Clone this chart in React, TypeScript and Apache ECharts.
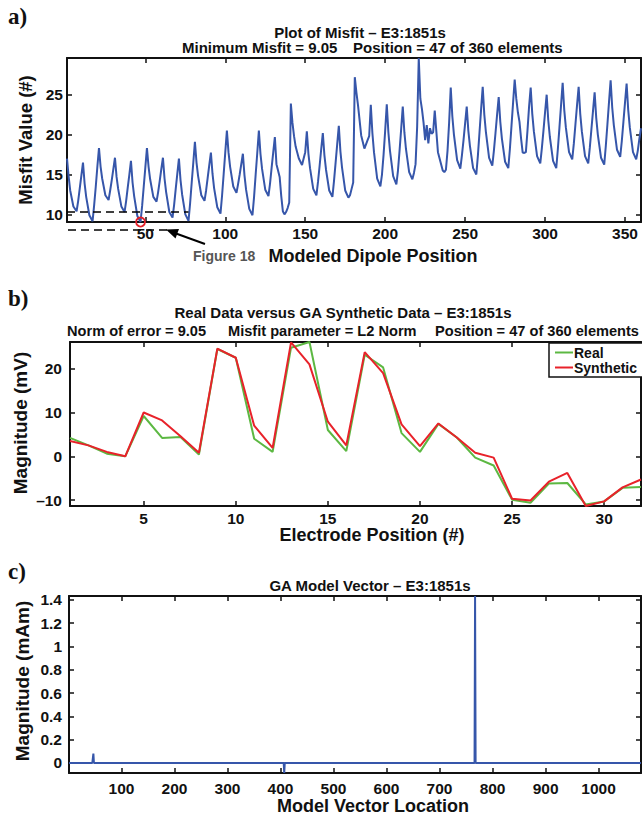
import React, { useEffect, useRef } from 'react';
import * as echarts from 'echarts';

// ---------- Panel a: misfit vs modeled dipole position ----------
const misfitPos = [
  1, 2, 3, 5, 7, 8, 9, 10, 11, 12, 13, 15, 17, 18, 19, 20, 21, 22, 23, 25, 27, 28, 29, 30,
  31, 32, 33, 35, 37, 38, 39, 40, 41, 42, 43, 45, 47, 48, 49, 50, 51, 52, 53, 55, 57, 58, 59, 60,
  61, 62, 63, 65, 67, 68, 69, 70, 71, 72, 73, 75, 77, 78, 79, 80, 81, 82, 83, 85, 87, 88, 89, 90,
  91, 92, 93, 95, 97, 98, 99, 100, 101, 102, 103, 105, 107, 108, 109, 110, 111, 112, 113, 115, 117, 118, 119, 120,
  121, 122, 123, 125, 127, 128, 129, 130, 131, 132, 133, 134, 135, 136, 137, 138, 139, 140,
  141, 142, 143, 144, 146, 148, 149, 150, 151, 152, 153, 155, 157, 158, 159, 160,
  161, 162, 163, 165, 167, 168, 169, 170, 171, 172, 173, 175, 177, 178, 179, 180,
  181, 182, 183, 185, 187, 189, 190, 191, 192, 193, 195, 197, 198, 199, 200,
  201, 202, 203, 205, 207, 208, 209, 210, 211, 212, 213, 215, 217, 218, 219, 220,
  221, 222, 223, 224, 225, 226, 227, 228, 229, 230, 231, 233, 236, 237, 238, 239, 240,
  241, 242, 243, 245, 247, 248, 249, 250, 251, 252, 253, 255, 257, 258, 259, 260,
  261, 262, 263, 265, 267, 268, 269, 270, 271, 272, 273, 275, 277, 278, 279, 280,
  281, 282, 283, 284, 285, 286, 287, 288, 289, 290, 291, 292, 293, 295, 297, 298, 299, 300,
  301, 302, 303, 305, 307, 308, 309, 310, 311, 312, 313, 315, 317, 318, 319, 320,
  321, 322, 323, 325, 327, 328, 329, 330, 331, 332, 333, 335, 337, 338, 339, 340,
  341, 342, 343, 345, 347, 348, 349, 350, 351, 352, 353, 355, 357, 358, 359, 360,
];
const misfitVal = [
  17.0, 14.8, 13.0, 11.0, 10.4, 11.7, 13.3, 14.9, 16.5, 13.9, 12.2, 9.9, 9.15, 11.2, 13.5, 16.0, 18.3, 16.0, 14.5, 12.4, 11.8, 13.0, 14.3, 15.7,
  17.1, 14.7, 13.2, 11.0, 10.3, 11.7, 13.4, 15.0, 16.7, 14.0, 12.3, 9.8, 9.05, 11.1, 13.5, 15.9, 18.3, 16.0, 14.4, 12.2, 11.6, 12.8, 14.2, 15.7,
  17.1, 14.5, 12.8, 10.3, 9.6, 11.2, 13.2, 15.1, 17.0, 14.3, 12.5, 10.0, 9.2, 11.4, 14.0, 16.5, 19.1, 16.5, 14.8, 12.4, 11.7, 13.0, 14.6, 16.2,
  17.75, 15.1, 13.3, 10.9, 10.1, 12.4, 15.1, 17.8, 20.5, 17.8, 16.0, 13.5, 12.7, 13.8, 15.0, 16.3, 17.6, 14.9, 13.1, 10.7, 9.9, 12.2, 15.0, 17.7,
  20.5, 17.6, 15.7, 13.1, 12.3, 13.9, 15.9, 17.8, 19.7, 16.3, 15.5, 14.7, 12.3, 10.4, 10.0, 10.3, 10.8, 11.5,
  23.9, 21.5, 19.8, 18.5, 17.0, 16.2, 17.0, 17.8, 20.4, 17.6, 15.8, 13.2, 12.4, 14.1, 16.1, 18.2,
  20.2, 17.4, 15.6, 13.0, 12.2, 14.2, 16.5, 18.8, 21.1, 17.9, 15.9, 13.0, 12.1, 12.4, 13.2, 14.0,
  27.2, 25.3, 23.7, 19.9, 18.25, 19.3, 19.8, 23.75, 20.2, 17.8, 14.5, 13.5, 15.0, 17.5, 20.5,
  23.8, 20.3, 18.0, 14.8, 13.75, 15.5, 18.0, 20.7, 23.5, 20.3, 18.2, 15.3, 14.4, 15.2, 16.3, 21.0,
  29.6, 24.5, 23.2, 21.5, 19.3, 21.2, 18.9, 20.8, 20.1, 20.3, 23.0, 17.8, 15.5, 15.3, 15.6, 18.0, 21.5,
  25.9, 22.3, 20.0, 16.8, 15.75, 17.4, 19.3, 21.4, 23.5, 20.5, 18.6, 15.8, 15.0, 17.4, 20.3, 23.2,
  26.0, 22.5, 20.3, 17.1, 16.1, 18.0, 20.2, 22.5, 24.7, 21.6, 19.5, 16.6, 15.8, 18.2, 21.1, 24.0,
  26.9, 24.5, 22.8, 21.6, 19.5, 17.75, 17.7, 17.8, 20.5, 23.5, 25.9, 22.6, 20.4, 17.3, 16.4, 18.3, 20.5, 22.8,
  25.0, 21.8, 19.7, 16.7, 15.8, 18.2, 20.9, 23.7, 26.5, 23.1, 20.9, 17.8, 16.9, 18.9, 21.3, 23.7,
  26.0, 22.6, 20.4, 17.3, 16.4, 18.4, 20.7, 23.0, 25.3, 22.1, 20.0, 17.1, 16.25, 18.6, 21.3, 24.1,
  26.8, 23.4, 21.2, 18.1, 17.2, 19.2, 21.6, 24.0, 26.4, 23.1, 20.9, 17.8, 16.9, 18.0, 19.5, 20.8,
];
const misfitXTicks = [50, 100, 150, 200, 250, 300, 350];
const misfitYTicks = [10, 15, 20, 25];
const bestPosition = 47;
const bestMisfit = 9.05;
const thresholdLevel = 10.3;
const thresholdEnd = 77;

// ---------- Panel b: real vs synthetic ----------
const electrodes = [1, 2, 3, 4, 5, 6, 7, 8, 9, 10, 11, 12, 13, 14, 15, 16, 17, 18, 19, 20, 21, 22, 23, 24, 25, 26, 27, 28, 29, 30, 31, 32];
const realData = [4.2, 2.5, 0.6, 0, 9.2, 4.2, 4.4, 0.4, 24.5, 22.5, 4.0, 1.0, 24.8, 26.1, 6.0, 1.2, 23.2, 20.3, 5.3, 1.0, 7.4, 4.3, -0.3, -2.1, -9.9, -10.6, -6.2, -6.1, -11.0, -10.3, -7.2, -7.0];
const synthData = [3.5, 2.5, 1.0, 0, 10.0, 8.2, 4.6, 0.8, 24.6, 22.5, 7.0, 1.9, 26.0, 21.0, 7.9, 2.5, 23.8, 19.0, 7.3, 2.3, 7.5, 4.3, 0.8, -0.3, -9.7, -10.1, -5.8, -3.8, -11.35, -10.3, -7.1, -5.3];
const electrodeTicks = [5, 10, 15, 20, 25, 30];
const magTicks = [-10, 0, 10, 20];

// ---------- Panel c: GA model vector ----------
const modelLength = 1080;
const modelSpikeIdx = [47, 407, 767];
const modelSpikeVal = [0.08, -0.086, 1.434];
const modelXTicks = [100, 200, 300, 400, 500, 600, 700, 800, 900, 1000];
const modelYTicks = [0, 0.2, 0.4, 0.6, 0.8, 1, 1.2, 1.4];

const FONT = '"Liberation Sans", Arial, Helvetica, sans-serif';
const INK = '#111';
const BLUE = '#3656aa';

const plainFmt = (v: number) => String(v);

function xPair(gridIndex: number, min: number, max: number, ticks: number[], margin: number, fmt: (v: number) => string = plainFmt) {
  const base: any = {
    type: 'value', gridIndex, min, max,
    splitLine: { show: false },
    axisLine: { show: true, onZero: false, lineStyle: { color: INK, width: 2 } },
    axisTick: { show: true, inside: true, length: 5, customValues: ticks, lineStyle: { color: INK, width: 1.5 } },
  };
  return [
    { ...base, position: 'bottom', axisLabel: { show: true, customValues: ticks, margin, color: INK, fontFamily: FONT, fontWeight: 'bold', fontSize: 15.5, formatter: fmt } },
    { ...base, position: 'top', axisLabel: { show: false } },
  ];
}
function yPair(gridIndex: number, min: number, max: number, ticks: number[], margin: number, fmt: (v: number) => string = plainFmt) {
  const base: any = {
    type: 'value', gridIndex, min, max,
    splitLine: { show: false },
    axisLine: { show: true, onZero: false, lineStyle: { color: INK, width: 2 } },
    axisTick: { show: true, inside: true, length: 5, customValues: ticks, lineStyle: { color: INK, width: 1.5 } },
  };
  return [
    { ...base, position: 'left', axisLabel: { show: true, customValues: ticks, margin, color: INK, fontFamily: FONT, fontWeight: 'bold', fontSize: 15.5, formatter: fmt } },
    { ...base, position: 'right', axisLabel: { show: false } },
  ];
}

function txt(text: string, x: number, y: number, size: number, opts: any = {}) {
  return {
    type: 'text', x, y, rotation: opts.rotation || 0, silent: true,
    style: {
      text, fill: opts.fill || INK,
      font: `bold ${size}px ${opts.family || FONT}`,
      textAlign: opts.align || 'center', textVerticalAlign: 'middle',
    },
  };
}

export default function App() {
  const ref = useRef<HTMLDivElement>(null);
  useEffect(() => {
    if (!ref.current) return;
    const chart = echarts.init(ref.current, undefined, { renderer: 'svg' });

    const misfitData = misfitPos.map((p, i) => [p, misfitVal[i]]);
    const realSeries = electrodes.map((e, i) => [e, realData[i]]);
    const synthSeries = electrodes.map((e, i) => [e, synthData[i]]);
    const modelData: number[][] = [];
    for (let i = 1; i <= modelLength; i++) {
      const k = modelSpikeIdx.indexOf(i);
      modelData.push([i, k >= 0 ? modelSpikeVal[k] : 0]);
    }

    const magFmt = (v: number) => (v < 0 ? '\u2013' + Math.abs(v) : String(v));
    const decFmt = (v: number) => String(Math.round(v * 10) / 10);

    const serif = '"Liberation Serif", "Times New Roman", serif';

    const option: any = {
      animation: false,
      backgroundColor: '#fff',
      grid: [
        { left: 67, top: 58, width: 574, height: 164 },
        { left: 70, top: 342, width: 571, height: 164 },
        { left: 69, top: 596, width: 572, height: 177 },
      ],
      xAxis: [
        ...xPair(0, 1, 360, misfitXTicks, 3),
        ...xPair(1, 1, 32, electrodeTicks, 4),
        ...xPair(2, 1, 1080, modelXTicks, 7),
      ],
      yAxis: [
        ...yPair(0, bestMisfit, 29.6, misfitYTicks, 4),
        ...yPair(1, -11.35, 26.1, magTicks, 8, magFmt),
        ...yPair(2, -0.086, 1.434, modelYTicks, 7, decFmt),
      ],
      legend: {
        show: true,
        left: 549, top: 343,
        orient: 'vertical',
        selectedMode: false,
        backgroundColor: '#fff',
        borderColor: INK, borderWidth: 1.5, borderRadius: 0,
        padding: [2, 6, 2, 6],
        itemGap: 0,
        itemWidth: 18, itemHeight: 2,
        icon: 'rect',
        textStyle: { color: INK, fontFamily: FONT, fontWeight: 'bold', fontSize: 14, lineHeight: 15, padding: [0, 0, 0, -4] },
        data: ['Real', 'Synthetic'],
      },
      series: [
        {
          name: 'Misfit', type: 'line', xAxisIndex: 0, yAxisIndex: 0,
          data: misfitData, showSymbol: false, symbol: 'none',
          lineStyle: { color: BLUE, width: 2 },
          markLine: {
            silent: true, symbol: 'none', label: { show: false },
            lineStyle: { color: '#000', width: 1.6, type: [8, 5] },
            data: [[{ coord: [1, thresholdLevel] }, { coord: [thresholdEnd, thresholdLevel] }]],
          },
          markPoint: {
            silent: true, symbol: 'circle', symbolSize: 9, label: { show: false },
            itemStyle: { color: 'rgba(255,255,255,0)', borderColor: '#e3202a', borderWidth: 1.8 },
            data: [{ coord: [bestPosition, bestMisfit] }],
          },
        },
        {
          name: 'Real', type: 'line', xAxisIndex: 2, yAxisIndex: 2,
          data: realSeries, showSymbol: false, symbol: 'none',
          itemStyle: { color: '#5cb842' },
          lineStyle: { color: '#5cb842', width: 2 },
        },
        {
          name: 'Synthetic', type: 'line', xAxisIndex: 2, yAxisIndex: 2,
          data: synthSeries, showSymbol: false, symbol: 'none',
          itemStyle: { color: '#e8222a' },
          lineStyle: { color: '#e8222a', width: 2 },
        },
        {
          name: 'Model', type: 'line', xAxisIndex: 4, yAxisIndex: 4,
          data: modelData, showSymbol: false, symbol: 'none',
          lineStyle: { color: BLUE, width: 2 },
        },
      ],
      graphic: {
        elements: [
          // panel letters
          txt('a)', 8, 16, 23, { align: 'left', family: serif }),
          txt('b)', 8, 298, 23, { align: 'left', family: serif }),
          txt('c)', 8, 571, 23, { align: 'left', family: serif }),
          // panel a titles
          txt('Plot of Misfit \u2013 E3:1851s', 360, 32, 15),
          txt('Minimum Misfit = 9.05', 182, 47, 15, { align: 'left' }),
          txt('Position = 47 of 360 elements', 353, 47, 15, { align: 'left' }),
          txt('Misfit Value (#)', 25, 140, 18.5, { rotation: Math.PI / 2 }),
          txt('Modeled Dipole Position', 373, 256, 18),
          txt('Figure 18', 193, 256, 14, { align: 'left', fill: '#555' }),
          // dashed line below axis and arrow
          { type: 'line', silent: true, shape: { x1: 68, y1: 230, x2: 168, y2: 230 }, style: { stroke: '#000', lineWidth: 1.6, lineDash: [8, 5] } },
          { type: 'line', silent: true, shape: { x1: 205, y1: 244, x2: 176, y2: 233.5 }, style: { stroke: '#000', lineWidth: 2 } },
          { type: 'polygon', silent: true, shape: { points: [[166, 229.5], [179, 229], [175.5, 238.5]] }, style: { fill: '#000' } },
          // panel b titles
          txt('Real Data versus GA Synthetic Data \u2013 E3:1851s', 343, 312, 15),
          txt('Norm of error = 9.05', 67, 331, 14.6, { align: 'left' }),
          txt('Misfit parameter = L2 Norm', 228, 331, 14.6, { align: 'left' }),
          txt('Position = 47 of 360 elements', 435, 331, 14.6, { align: 'left' }),
          txt('Magnitude (mV)', 20, 423, 19, { rotation: Math.PI / 2 }),
          txt('Electrode Position (#)', 372, 535, 18),
          // panel c titles
          txt('GA Model Vector \u2013 E3:1851s', 370, 585, 15),
          txt('Magnitude (mAm)', 22, 681, 19, { rotation: Math.PI / 2 }),
          txt('Model Vector Location', 373, 806, 18),
        ],
      },
    };
    chart.setOption(option);
    return () => chart.dispose();
  }, []);
  return <div ref={ref} style={{ position: 'absolute', left: 0, top: 0, width: 642, height: 817 }} />;
}
